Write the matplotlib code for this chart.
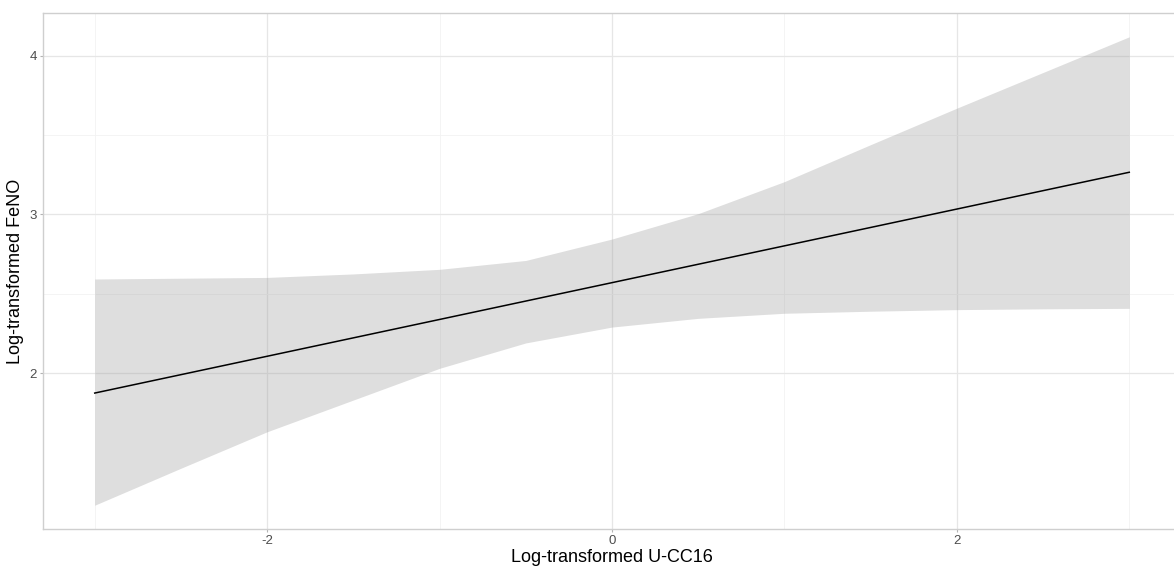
import numpy as np
import matplotlib
matplotlib.use("Agg")
import matplotlib.pyplot as plt
from matplotlib.ticker import FixedLocator

plt.rcParams['font.family'] = ['Liberation Sans', 'DejaVu Sans']

# Data
x_fit = [-3.0, -2.5, -2.0, -1.5, -1.0, -0.5, 0.0, 0.5, 1.0, 1.5, 2.0, 2.5, 3.0]
ci_upper = [2.593, 2.598, 2.603, 2.625, 2.654, 2.71, 2.845, 3.005, 3.207, 3.44, 3.67, 3.895, 4.12]
ci_lower = [1.167, 1.40, 1.63, 1.83, 2.03, 2.19, 2.29, 2.345, 2.377, 2.39, 2.40, 2.405, 2.408]
line_x = [-3.0, 3.0]
line_y = [1.874, 3.266]

x_ticks = [-2, 0, 2]
x_minor = [-3, -1, 1, 3]
y_ticks = [2, 3, 4]
y_minor = [2.5, 3.5]

fig = plt.figure(figsize=(11.74, 5.66), dpi=100)
W, H = 1174, 566
left_px, right_px, top_px, bottom_px = 43, 1181, 13, 529
ax = fig.add_axes([left_px / W, (H - bottom_px) / H,
                   (right_px - left_px) / W, (bottom_px - top_px) / H])

ax.set_xlim(-3.3, 3.3)
ax.set_ylim(1.017, 4.27)

ax.xaxis.set_major_locator(FixedLocator(x_ticks))
ax.xaxis.set_minor_locator(FixedLocator(x_minor))
ax.yaxis.set_major_locator(FixedLocator(y_ticks))
ax.yaxis.set_minor_locator(FixedLocator(y_minor))

ax.grid(which='major', color='#e6e6e6', linewidth=0.9)
ax.grid(which='minor', color='#f2f2f2', linewidth=0.6)
ax.set_axisbelow(True)

ax.fill_between(x_fit, ci_lower, ci_upper, color='#999999', alpha=0.32,
                linewidth=0, zorder=2)
ax.plot(line_x, line_y, color='black', linewidth=1.1, zorder=3)

for s in ax.spines.values():
    s.set_color('#cfcfcf')
    s.set_linewidth(1.0)

ax.tick_params(which='major', length=2.5, width=0.8, color='#b3b3b3',
               labelcolor='#4d4d4d', labelsize=9.5, pad=2)
ax.tick_params(which='minor', length=0)

ax.set_xticklabels([str(v) for v in x_ticks])
ax.set_yticklabels([str(v) for v in y_ticks])

ax.set_xlabel('Log-transformed U-CC16', fontsize=13, color='black', labelpad=1)
ax.set_ylabel('Log-transformed FeNO', fontsize=13, color='black', labelpad=4)

fig.savefig('out.png', dpi=100)
